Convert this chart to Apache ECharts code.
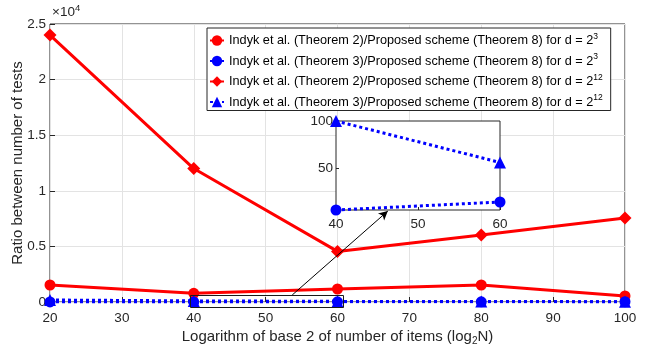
<!DOCTYPE html>
<html><head><meta charset="utf-8">
<script src="https://cdn.jsdelivr.net/npm/echarts@6/dist/echarts.min.js"></script>
<style>html,body{margin:0;padding:0;background:#fff}#c{width:654px;height:349px}</style>
</head><body><div id="c"></div>
<script>
const xValues = [20, 40, 60, 80, 100];
const redCircle = [1530, 780, 1170, 1530, 540];      // Thm2 / Thm8, d = 2^3
const blueCircle = [3, 5.5, 14, 20, 30];             // Thm3 / Thm8, d = 2^3
const redDiamond = [24000, 12000, 4550, 6020, 7550]; // Thm2 / Thm8, d = 2^12
const blueTri = [180, 100, 56, 40, 30];              // Thm3 / Thm8, d = 2^12
const yTickLabels = ['0', '0.5', '1', '1.5', '2', '2.5'];
const insetIdx = [1, 2];
const names = [
  'Indyk et al. (Theorem 2)/Proposed scheme (Theorem 8) for d = 2^3',
  'Indyk et al. (Theorem 3)/Proposed scheme (Theorem 8) for d = 2^3',
  'Indyk et al. (Theorem 2)/Proposed scheme (Theorem 8) for d = 2^12',
  'Indyk et al. (Theorem 3)/Proposed scheme (Theorem 8) for d = 2^12'
];
const zoomBoxX = [39.5, 60.8];
const zoomBoxY = [-420, 630];
const arrowLine = [[53.7, 630], [67, 8180]];

const pairs = a => xValues.map((x, i) => [x, a[i]]);
const insetPairs = a => insetIdx.map(i => [xValues[i], a[i]]);
const RED = '#ff0000', BLUE = '#0000ff', INK = '#262626';
const FONT = 'Liberation Sans, Arial, sans-serif';
const solid = {color: RED, width: 3};
const dotted = {color: BLUE, width: 3, type: [3, 3]};

const chart = echarts.init(document.getElementById('c'));
chart.setOption({
  animation: false,
  textStyle: {fontFamily: FONT},
  grid: [
    {left: 50, top: 24, width: 575, height: 278, show: true, borderColor: INK, borderWidth: 1,
     backgroundColor: 'transparent', containLabel: false, outerBoundsMode: 'none'},
    {left: 336, top: 121, width: 164, height: 89, show: true, borderColor: INK, borderWidth: 1,
     backgroundColor: '#fff', z: 5, containLabel: false, outerBoundsMode: 'none'}
  ],
  xAxis: [
    {type: 'value', gridIndex: 0, min: 20, max: 100, interval: 10,
     name: 'Logarithm of base 2 of number of items (log{sub|2}N)', nameLocation: 'middle', nameGap: 25,
     nameMoveOverlap: false,
     nameTextStyle: {fontSize: 15, color: INK, fontFamily: FONT, rich: {sub: {fontSize: 10, padding: [9, 0, 0, 0], fontFamily: FONT, color: INK}}},
     axisLine: {show: false}, axisTick: {inside: true, length: 5, lineStyle: {color: INK}},
     axisLabel: {fontSize: 13.5, color: INK, margin: 9},
     splitLine: {show: true, lineStyle: {color: '#e3e3e3'}}},
    {type: 'value', gridIndex: 1, min: 40, max: 60, interval: 10, z: 6,
     axisLine: {show: false}, axisTick: {inside: true, length: 3, lineStyle: {color: INK}},
     axisLabel: {fontSize: 13.5, color: INK, margin: 7}, splitLine: {show: false}}
  ],
  yAxis: [
    {type: 'value', gridIndex: 0, min: 0, max: 25000, interval: 5000,
     name: 'Ratio between number of tests', nameLocation: 'middle', nameGap: 25, nameMoveOverlap: false,
     nameTextStyle: {fontSize: 15, color: INK},
     axisLine: {show: false}, axisTick: {inside: true, length: 5, lineStyle: {color: INK}},
     axisLabel: {fontSize: 13.5, color: INK, margin: 4, formatter: (v) => yTickLabels[Math.round(v / 5000)]},
     splitLine: {show: true, lineStyle: {color: '#e3e3e3'}}},
    {type: 'value', gridIndex: 1, min: 5.5, max: 100, z: 6,
     axisLine: {show: false}, axisTick: {inside: true, length: 3, lineStyle: {color: INK}, customValues: [50, 100]},
     axisLabel: {fontSize: 13.5, color: INK, margin: 3, customValues: [50, 100]}, splitLine: {show: false}}
  ],
  legend: {
    orient: 'vertical', left: 207, top: 28, padding: [4, 8, 2, 2], itemGap: 5.5, itemWidth: 14, itemHeight: 13,
    backgroundColor: '#fff', borderColor: INK, borderWidth: 1, borderRadius: 0,
    data: names,
    formatter: n => n.replace(/\^(\d+)$/, '{sup|$1}'),
    textStyle: {fontSize: 12.7, color: '#000', fontFamily: FONT,
      rich: {sup: {fontSize: 8.5, padding: [0, 0, 8, 0], color: '#000', fontFamily: FONT}}}
  },
  series: [
    {name: names[0], type: 'line', data: pairs(redCircle), symbol: 'circle', symbolSize: 11,
     lineStyle: solid, itemStyle: {color: RED}, z: 2},
    {name: names[1], type: 'line', data: pairs(blueCircle), symbol: 'circle', symbolSize: 11,
     lineStyle: dotted, itemStyle: {color: BLUE}, z: 3},
    {name: names[2], type: 'line', data: pairs(redDiamond), symbol: 'diamond', symbolSize: 13,
     lineStyle: solid, itemStyle: {color: RED}, z: 2},
    {name: names[3], type: 'line', data: pairs(blueTri), symbol: 'triangle', symbolSize: 12,
     lineStyle: dotted, itemStyle: {color: BLUE}, z: 3},
    {name: 'box', type: 'custom', clip: false, silent: true, z: 10,
     data: [[zoomBoxX[0], zoomBoxY[1], zoomBoxX[1], zoomBoxY[0]]],
     encode: {x: [0, 2], y: [1, 3]},
     renderItem: (params, api) => {
       const p0 = api.coord([api.value(0), api.value(1)]);
       const p1 = api.coord([api.value(2), api.value(3)]);
       return {type: 'rect', shape: {x: Math.round(p0[0]) + 0.5, y: Math.round(p0[1]) + 0.5,
         width: Math.round(p1[0] - p0[0]), height: Math.round(p1[1] - p0[1])},
         style: {fill: 'transparent', stroke: '#1a1a1a', lineWidth: 1}};
     }},
    {name: 'arrow', type: 'line', data: [], clip: false, silent: true, z: 4,
     markLine: {silent: true, symbol: ['none', 'arrow'], symbolSize: [7, 9], label: {show: false},
       lineStyle: {color: '#000', width: 1, type: 'solid'},
       data: [[{coord: arrowLine[0]}, {coord: arrowLine[1]}]]}},
    {name: 'in1', type: 'line', xAxisIndex: 1, yAxisIndex: 1, data: insetPairs(blueCircle), clip: false,
     symbol: 'circle', symbolSize: 11, lineStyle: dotted, itemStyle: {color: BLUE}, z: 7},
    {name: 'in2', type: 'line', xAxisIndex: 1, yAxisIndex: 1, data: insetPairs(blueTri), clip: false,
     symbol: 'triangle', symbolSize: 12, lineStyle: dotted, itemStyle: {color: BLUE}, z: 7}
  ],
  graphic: [
    {type: 'text', left: 52, top: 3, style: {
      text: '×10{sup|4}', fill: INK, font: '13.5px ' + FONT,
      rich: {sup: {fontSize: 9.5, padding: [0, 0, 8, 0], fill: INK, fontFamily: FONT}}}}
  ]
});
</script></body></html>
